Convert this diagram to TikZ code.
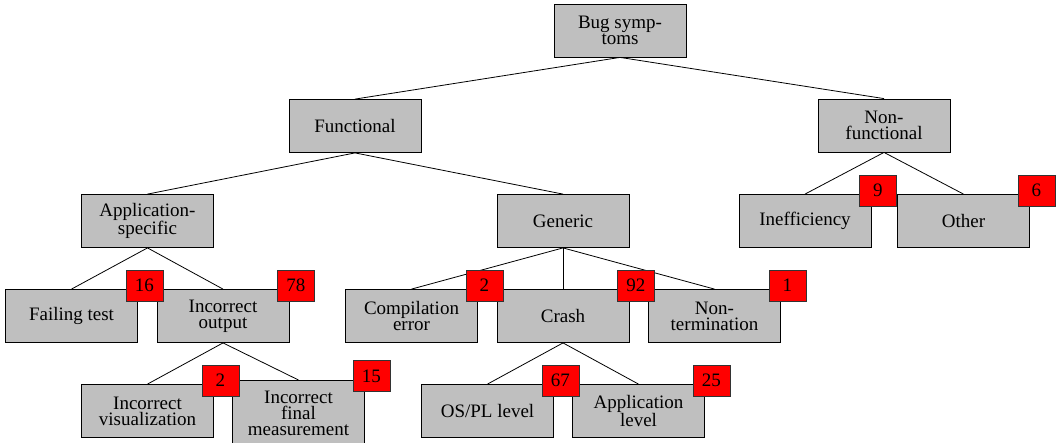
\documentclass[tikz,border=0pt]{standalone}
\usepackage{fontspec}
\setmainfont{Liberation Serif}
\definecolor{boxgray}{RGB}{191,191,191}
\tikzset{
  catbox/.style={draw=black, fill=boxgray, line width=0.8pt, minimum width=132pt,
    minimum height=53pt, align=center, font=\fontsize{19}{16}\selectfont},
  countbox/.style={draw=black!80, fill=red, line width=0.8pt, minimum width=37pt,
    minimum height=31pt, inner sep=0pt, font=\fontsize{19}{16}\selectfont},
  edge/.style={line width=0.8pt}
}
\newcommand{\cnt}[2]{\node[countbox] (n-#1) at ([xshift=6.5pt,yshift=3.7pt]#1.north east) {#2};}
\begin{document}
\begin{tikzpicture}[x=1pt, y=-1pt]

    \useasboundingbox (0,0) rectangle (1056,442);

    % categories
    \node[catbox] (root) at (620,30.5) {Bug symp-\\toms};
    \node[catbox] (func) at (355,126) {Functional};
    \node[catbox] (nonfunc) at (884,125.5) {Non-\\functional};
    \node[catbox] (appspec) at (147.5,221) {Application-\\specific};
    \node[catbox] (generic) at (563,221) {Generic};
    \node[catbox] (ineff) at (805,221) {Inefficiency};
    \node[catbox] (other) at (963.5,221) {Other};
    \node[catbox] (failing) at (71.5,316) {Failing test};
    \node[catbox] (incout) at (223,316) {Incorrect\\output};
    \node[catbox] (compile) at (411.5,316) {Compilation\\error};
    \node[catbox] (crash) at (563,316) {Crash};
    \node[catbox] (nonterm) at (714.5,316) {Non-\\termination};
    \node[catbox] (incvis) at (147.5,411) {Incorrect\\visualization};
    \node[catbox, anchor=north, minimum height=66pt] (incfinal) at (298.5,380) {Incorrect\\final\\measurement};
    \node[catbox] (ospl) at (487.5,411) {OS/PL level};
    \node[catbox] (applvl) at (638.5,411) {Application\\level};

    % tree
    \draw[edge] (root.south) -- (func.north);
    \draw[edge] (root.south) -- (nonfunc.north);
    \draw[edge] (func.south) -- (appspec.north);
    \draw[edge] (func.south) -- (generic.north);
    \draw[edge] (nonfunc.south) -- (ineff.north);
    \draw[edge] (nonfunc.south) -- (other.north);
    \draw[edge] (appspec.south) -- (failing.north);
    \draw[edge] (appspec.south) -- (incout.north);
    \draw[edge] (generic.south) -- (compile.north);
    \draw[edge] (generic.south) -- (crash.north);
    \draw[edge] (generic.south) -- (nonterm.north);
    \draw[edge] (incout.south) -- (incvis.north);
    \draw[edge] (incout.south) -- (incfinal.north);
    \draw[edge] (crash.south) -- (ospl.north);
    \draw[edge] (crash.south) -- (applvl.north);

    % counts
    \cnt{failing}{16}
    \cnt{incout}{78}
    \cnt{incvis}{2}
    \cnt{incfinal}{15}
    \cnt{compile}{2}
    \cnt{crash}{92}
    \cnt{nonterm}{1}
    \cnt{ospl}{67}
    \cnt{applvl}{25}
    \cnt{ineff}{9}
    \cnt{other}{6}

\end{tikzpicture}
\end{document}
